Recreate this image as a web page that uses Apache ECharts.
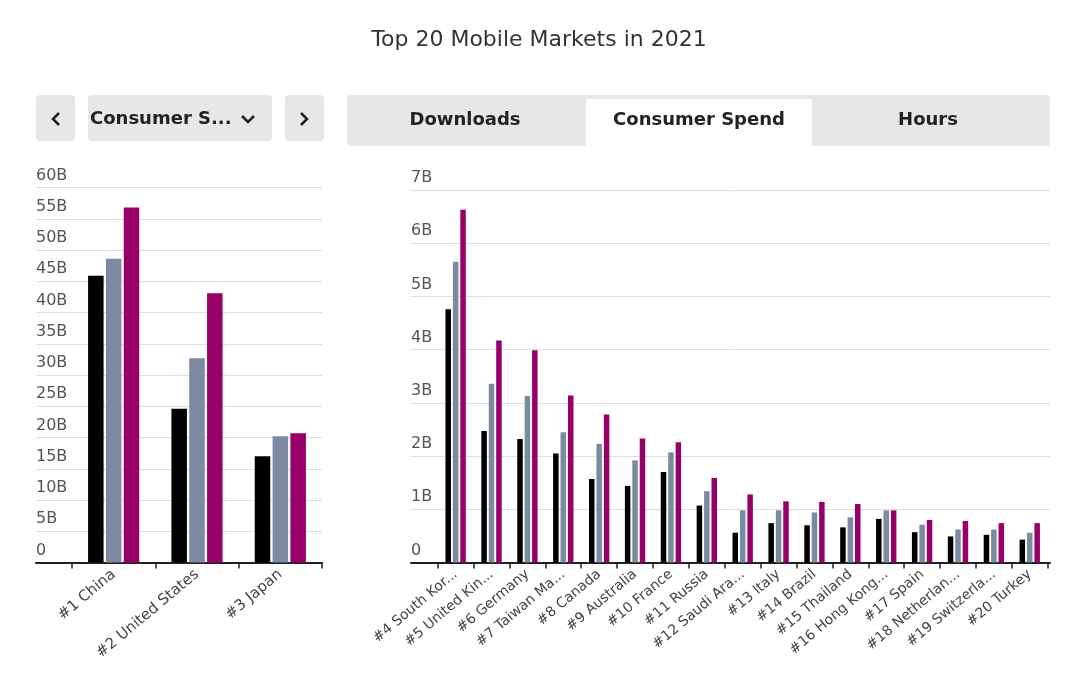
<!DOCTYPE html>
<html><head><meta charset="utf-8">
<script src="https://cdn.jsdelivr.net/npm/echarts@6/dist/echarts.min.js"></script>
<style>html,body{margin:0;padding:0;background:#fff}#c{width:1078px;height:682px}</style>
</head><body><div id="c"></div>
<script>
// ---- data (values in billions USD) ----
const seriesNames = ['2019', '2020', '2021'];
const leftCats = ['#1 China', '#2 United States', '#3 Japan'];
const left2019 = [45.9, 24.6, 17.0];
const left2020 = [48.6, 32.7, 20.2];
const left2021 = [56.8, 43.1, 20.7];

const rightCats = ['#4 South Kor...', '#5 United Kin...', '#6 Germany', '#7 Taiwan Ma...', '#8 Canada',
  '#9 Australia', '#10 France', '#11 Russia', '#12 Saudi Ara...', '#13 Italy', '#14 Brazil',
  '#15 Thailand', '#16 Hong Kong...', '#17 Spain', '#18 Netherlan...', '#19 Switzerla...', '#20 Turkey'];
const right2019 = [4.76, 2.47, 2.32, 2.05, 1.57, 1.44, 1.70, 1.07, 0.56, 0.74, 0.70, 0.66, 0.82, 0.57, 0.49, 0.52, 0.43];
const right2020 = [5.65, 3.36, 3.13, 2.45, 2.23, 1.92, 2.07, 1.34, 0.98, 0.98, 0.94, 0.85, 0.98, 0.71, 0.62, 0.62, 0.56];
const right2021 = [6.63, 4.17, 3.99, 3.14, 2.78, 2.33, 2.26, 1.59, 1.28, 1.15, 1.14, 1.10, 0.98, 0.80, 0.78, 0.74, 0.74];

const leftAxis = { min: 0, max: 60, interval: 5 };
const rightAxis = { min: 0, max: 7, interval: 1 };
const unit = 'B';

const title = 'Top 20 Mobile Markets in 2021';
const dropdownText = 'Consumer S...';
const tabs = ['Downloads', 'Consumer Spend', 'Hours'];

// ---- styles ----
const colors = ['#000000', '#7b8aa0', '#980069'];
const FONT = 'DejaVu Sans';
const fmt = v => (v === 0 ? '0' : v + unit);

const chart = echarts.init(document.getElementById('c'), null, { renderer: 'canvas' });

function bgY(idx, ax) {
  return {
    gridIndex: idx, type: 'value', min: ax.min, max: ax.max, interval: ax.interval,
    axisLine: { show: false }, axisTick: { show: false },
    axisLabel: { inside: true, margin: 0, verticalAlign: 'bottom', padding: [0, 0, 4, 0],
      color: '#555', fontSize: 16, fontFamily: FONT, formatter: fmt },
    splitLine: { lineStyle: { color: '#dedede', width: 1 } }
  };
}
function hidY(idx, ax) {
  return { gridIndex: idx, type: 'value', min: ax.min, max: ax.max, interval: ax.interval, show: false };
}
function bgX(idx) {
  return { gridIndex: idx, type: 'value', min: 0, max: 1,
    axisLine: { show: true, onZero: false, lineStyle: { color: '#222', width: 2 } },
    axisTick: { show: false }, axisLabel: { show: false }, splitLine: { show: false } };
}
function catX(idx, cats, fs) {
  return { gridIndex: idx, type: 'category', data: cats,
    axisLine: { show: false },
    axisTick: { show: true, length: 6, lineStyle: { color: '#222', width: 1.5 } },
    axisLabel: { interval: 0, rotate: 40, fontSize: fs, color: '#444', fontFamily: FONT, margin: 10 } };
}
function bars(xi, yi, data, bw, gap) {
  return seriesNames.map((n, k) => ({
    name: n, type: 'bar', xAxisIndex: xi, yAxisIndex: yi, data: data[k],
    barWidth: bw, barGap: gap, itemStyle: { color: colors[k] }, animation: false
  }));
}

const TOP_L = 187.5, BOT = 682 - 562.5;
const btn = '#e7e7e7';
const txt = '#222';
const btnFont = 'bold 18px "' + FONT + '"';

chart.setOption({
  animation: false,
  backgroundColor: '#ffffff',
  textStyle: { fontFamily: FONT },
  title: { text: title, left: 'center', top: 24,
    textStyle: { fontFamily: FONT, fontSize: 22, fontWeight: 'normal', color: '#333' } },
  grid: [
    { left: 36, right: 1078 - 322, top: TOP_L, bottom: BOT, outerBoundsMode: 'none' },
    { left: 72, right: 1078 - 322, top: TOP_L, bottom: BOT, outerBoundsMode: 'none' },
    { left: 411, right: 1078 - 1050, top: 190, bottom: BOT, outerBoundsMode: 'none' },
    { left: 437.7, right: 1078 - 1047.7, top: 190, bottom: BOT, outerBoundsMode: 'none' }
  ],
  xAxis: [bgX(0), catX(1, leftCats, 15), bgX(2), catX(3, rightCats, 14)],
  yAxis: [bgY(0, leftAxis), hidY(1, leftAxis), bgY(2, rightAxis), hidY(3, rightAxis)],
  series: [
    ...bars(1, 1, [left2019, left2020, left2021], 15.5, '15%'),
    ...bars(3, 3, [right2019, right2020, right2021], 5.5, '35%')
  ],
  graphic: [
    { type: 'rect', shape: { x: 36, y: 95, width: 39, height: 46, r: 4 }, style: { fill: btn } },
    { type: 'polyline', shape: { points: [[59, 113], [53, 119], [59, 125]] }, style: { stroke: txt, lineWidth: 2.5, fill: null } },
    { type: 'rect', shape: { x: 88, y: 95, width: 184, height: 46, r: 4 }, style: { fill: btn } },
    { type: 'text', x: 90, y: 119, style: { text: dropdownText, fill: txt, font: btnFont, verticalAlign: 'middle', align: 'left' } },
    { type: 'polyline', shape: { points: [[242, 116], [248, 122], [254, 116]] }, style: { stroke: txt, lineWidth: 2.5, fill: null } },
    { type: 'rect', shape: { x: 285, y: 95, width: 39, height: 46, r: 4 }, style: { fill: btn } },
    { type: 'polyline', shape: { points: [[301, 113], [307, 119], [301, 125]] }, style: { stroke: txt, lineWidth: 2.5, fill: null } },
    { type: 'rect', shape: { x: 347, y: 95, width: 703, height: 51, r: 3 }, style: { fill: btn } },
    { type: 'rect', shape: { x: 586, y: 99, width: 226, height: 52 }, style: { fill: '#ffffff' } },
    { type: 'text', x: 465, y: 120, style: { text: tabs[0], fill: txt, font: btnFont, verticalAlign: 'middle', align: 'center' } },
    { type: 'text', x: 699, y: 120, style: { text: tabs[1], fill: txt, font: btnFont, verticalAlign: 'middle', align: 'center' } },
    { type: 'text', x: 928, y: 120, style: { text: tabs[2], fill: txt, font: btnFont, verticalAlign: 'middle', align: 'center' } }
  ]
});
</script></body></html>
